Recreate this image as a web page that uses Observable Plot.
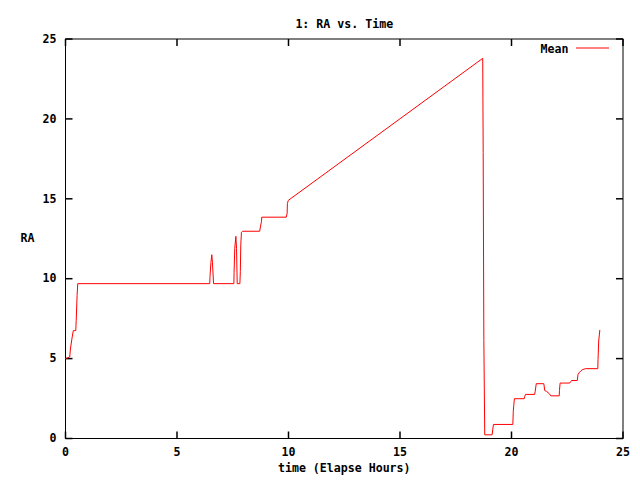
<!DOCTYPE html>
<html><head><meta charset="utf-8">
<script src="https://cdn.jsdelivr.net/npm/d3@7"></script>
<script src="https://cdn.jsdelivr.net/npm/@observablehq/plot@0.6"></script>
<style>
body{margin:0;background:#fff;}
#wrap{position:relative;width:640px;height:480px;}
#legend{position:absolute;left:0;top:0;pointer-events:none;}
</style></head><body><div id="wrap"></div>
<script>
const times = [0,0.19,0.22,0.30,0.35,0.46,0.48,0.52,0.55,
  6.47,6.48,6.52,6.56,6.59,6.64,
  7.55,7.56,7.59,7.64,7.67,7.70,
  7.82,7.84,7.86,7.89,7.94,
  8.71,8.74,8.79,8.80,
  9.90,9.94,9.95,9.99,
  18.71,18.73,18.76,18.80,
  19.13,19.19,
  20.06,20.08,20.10,20.13,
  20.57,20.59,20.63,
  21.04,21.06,21.11,
  21.45,21.49,21.57,21.70,21.76,
  22.14,22.15,22.18,
  22.61,22.65,22.69,
  22.95,22.98,23.03,23.10,23.17,23.32,
  23.87,23.88,23.91,23.96];
const ra = [5.0,5.1,5.6,6.35,6.75,6.75,7.4,8.96,9.69,
  9.69,10.15,11.0,11.5,11.0,9.69,
  9.69,10.4,11.9,12.65,11.9,9.69,
  9.69,10.46,12.1,12.9,12.97,
  12.97,13.24,13.6,13.85,
  13.85,14.1,14.7,14.9,
  23.79,17.9,6.14,0.23,
  0.23,0.88,
  0.88,1.71,2.05,2.49,
  2.49,2.63,2.76,
  2.76,2.92,3.43,
  3.43,3.0,2.95,2.8,2.67,
  2.67,3.0,3.47,
  3.47,3.55,3.63,
  3.63,3.99,4.11,4.22,4.3,4.37,
  4.37,4.93,6.1,6.77];
const xTicks = [0,5,10,15,20,25];
const yTicks = [0,5,10,15,20,25];
const title = "1: RA vs. Time";
const xLabel = "time (Elapse Hours)";
const yLabel = "RA";
const seriesName = "Mean";

const data = times.map((t,i)=>({t, v: ra[i]}));
const W = 640, H = 480, mL = 65, mR = 17.5, mT = 38.5, mB = 42, tick = 7;
const fw = W - mL - mR, fh = H - mT - mB;
const xMin = xTicks[0], xMax = xTicks[xTicks.length-1];
const yMin = yTicks[0], yMax = yTicks[yTicks.length-1];
const dY = tick * (yMax - yMin) / fh;   // tick length in y units
const dX = tick * (xMax - xMin) / fw;   // tick length in x units
const xt = xTicks.map(v => ({v}));
const yt = yTicks.map(v => ({v}));

const chart = Plot.plot({
  width:W, height:H,
  marginLeft:mL, marginRight:mR, marginTop:mT, marginBottom:mB,
  style:{fontFamily:"'DejaVu Sans Mono', monospace", fontSize:"11.6px", fontWeight:"bold", background:"white", color:"black"},
  x:{domain:[xMin,xMax]},
  y:{domain:[yMin,yMax]},
  marks:[
    Plot.frame({stroke:"black", fill:"none"}),
    Plot.axisX(xTicks,{anchor:"bottom", tickSize:0, tickPadding:9, label:null}),
    Plot.axisY(yTicks,{anchor:"left", tickSize:0, tickPadding:9, label:null}),
    Plot.link(xt,{x1:"v", x2:"v", y1:()=>yMin, y2:()=>yMin+dY, stroke:"#000", strokeWidth:1.5}),
    Plot.link(xt,{x1:"v", x2:"v", y1:()=>yMax-dY, y2:()=>yMax, stroke:"#000", strokeWidth:1.5}),
    Plot.link(yt,{y1:"v", y2:"v", x1:()=>xMin, x2:()=>xMin+dX, stroke:"#000", strokeWidth:1.5}),
    Plot.link(yt,{y1:"v", y2:"v", x1:()=>xMax-dX, x2:()=>xMax, stroke:"#000", strokeWidth:1.5}),
    Plot.line(data,{x:"t", y:"v", stroke:"red", strokeWidth:1}),
    Plot.text([title],{frameAnchor:"top", dy:-19.5}),
    Plot.text([xLabel],{frameAnchor:"bottom", dy:33}),
    Plot.text([yLabel],{frameAnchor:"left", dx:-45}),
    Plot.text([seriesName],{frameAnchor:"top-right", textAnchor:"end", dx:-54.5, dy:6})
  ]
});
const wrap = document.getElementById("wrap");
wrap.appendChild(chart);
// legend sample line
const ns = "http://www.w3.org/2000/svg";
const lg = document.createElementNS(ns,"svg");
lg.setAttribute("id","legend");
lg.setAttribute("width","640");
lg.setAttribute("height","480");
const ln = document.createElementNS(ns,"line");
ln.setAttribute("x1","576"); ln.setAttribute("x2","609");
ln.setAttribute("y1","48"); ln.setAttribute("y2","48");
ln.setAttribute("stroke","red"); ln.setAttribute("stroke-width","1");
lg.appendChild(ln);
wrap.appendChild(lg);
</script></body></html>
